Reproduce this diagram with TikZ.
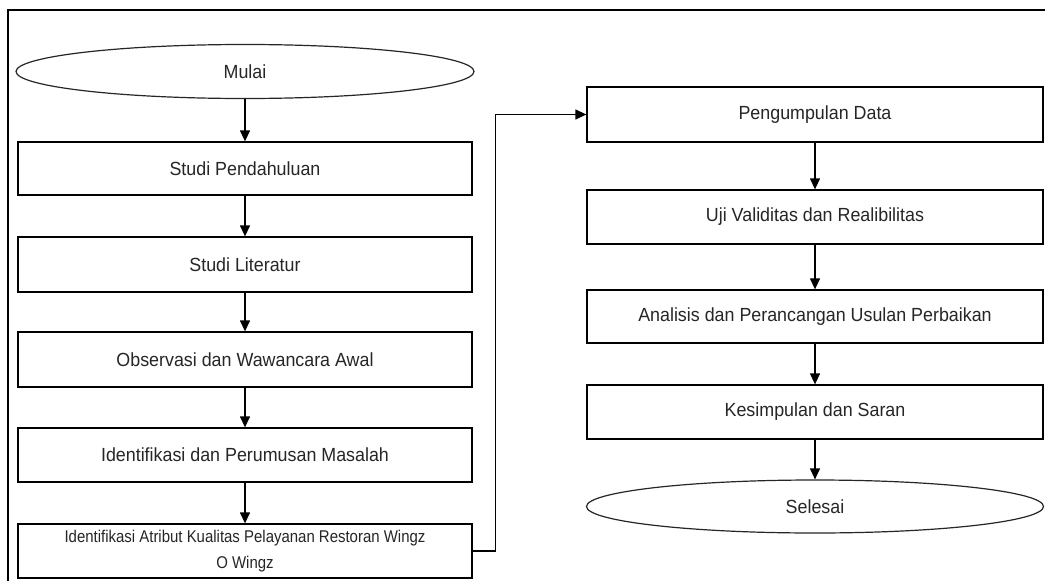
\documentclass[tikz,border=0pt]{standalone}
\usepackage{fontspec}
\setmainfont{Liberation Sans}
\newfontfamily\boxfont[FakeStretch=0.94]{Liberation Sans}
\newfontfamily\narrowfont[FakeStretch=0.88]{Liberation Sans}
\usetikzlibrary{shapes.geometric,arrows.meta}
\tikzset{
  procbox/.style={draw=black, line width=1.3pt, rectangle, minimum width=454pt, minimum height=54pt, inner sep=2pt, align=center, font=\boxfont\fontsize{19}{22}\selectfont, text=black!85},
  termbox/.style={draw=black!85, line width=1.2pt, ellipse, minimum width=458pt, minimum height=54pt, inner sep=0pt, font=\boxfont\fontsize{19}{22}\selectfont, text=black!85},
  arr/.style={draw=black, line width=1.3pt, -{Triangle[width=10pt,length=11pt]}},
  frameline/.style={draw=black, line width=1.8pt}
}
\begin{document}
\begin{tikzpicture}[x=1pt,y=-1pt]
\useasboundingbox (0,0) rectangle (1045,581);
\fill[white] (0,0) rectangle (1045,581);
\draw[frameline] (8,600) -- (8,10) -- (1060,10);

\node[termbox] (mulai) at (245,71.5) {Mulai};
\node[procbox, minimum height=53pt] (s1) at (245,168.5) {Studi Pendahuluan};
\node[procbox, minimum height=55pt] (s2) at (245,264.5) {Studi Literatur};
\node[procbox, minimum height=55pt] (s3) at (245,359.5) {Observasi dan Wawancara Awal};
\node[procbox, minimum height=54pt] (s4) at (245,455) {Identifikasi dan Perumusan Masalah};
\node[procbox, minimum height=54pt, font=\narrowfont\fontsize{17}{26}\selectfont] (s5) at (245,551) {Identifikasi Atribut Kualitas Pelayanan Restoran Wingz\\O Wingz};

\node[procbox, minimum width=456pt, minimum height=55pt] (r1) at (815,114.5) {Pengumpulan Data};
\node[procbox, minimum width=456pt, minimum height=54pt] (r2) at (815,217) {Uji Validitas dan Realibilitas};
\node[procbox, minimum width=456pt, minimum height=53pt] (r3) at (815,316.5) {Analisis dan Perancangan Usulan Perbaikan};
\node[procbox, minimum width=456pt, minimum height=54pt] (r4) at (815,412) {Kesimpulan dan Saran};
\node[termbox, minimum width=457pt, minimum height=53pt] (selesai) at (815,506.5) {Selesai};

\draw[arr] (mulai.south) -- (s1.north);
\draw[arr] (s1.south) -- (s2.north);
\draw[arr] (s2.south) -- (s3.north);
\draw[arr] (s3.south) -- (s4.north);
\draw[arr] (s4.south) -- (s5.north);
\coordinate (bend) at ([xshift=23pt]s5.east);
\draw[arr] (s5.east) -- (bend) |- (r1.west);
\draw[arr] (r1.south) -- (r2.north);
\draw[arr] (r2.south) -- (r3.north);
\draw[arr] (r3.south) -- (r4.north);
\draw[arr] (r4.south) -- (selesai.north);
\end{tikzpicture}
\end{document}
